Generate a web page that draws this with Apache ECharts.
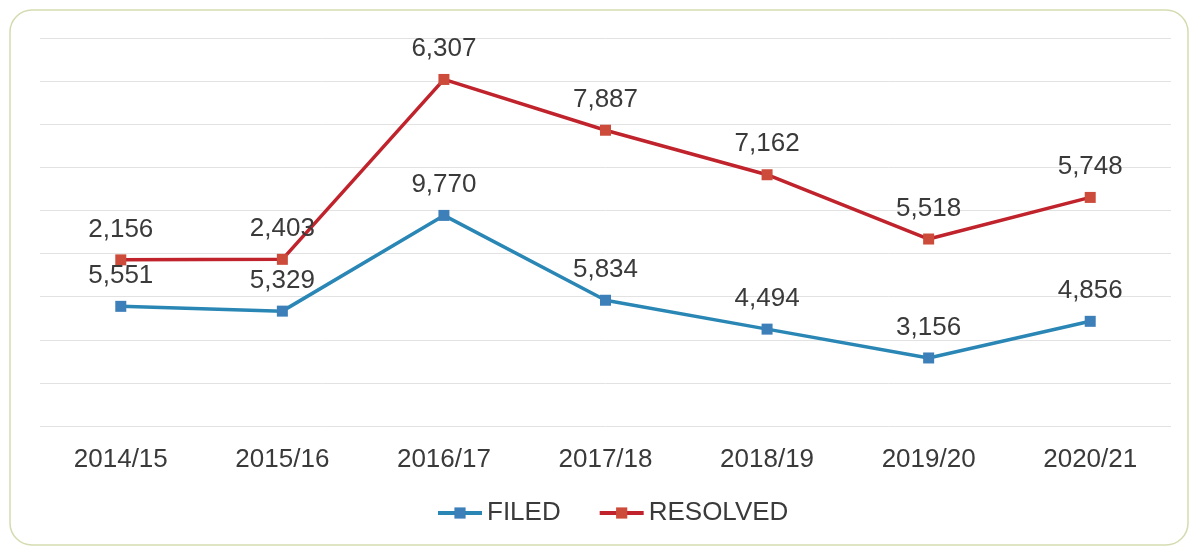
<!DOCTYPE html>
<html>
<head>
<meta charset="utf-8">
<script src="https://cdn.jsdelivr.net/npm/echarts@6/dist/echarts.min.js"></script>
<style>
html,body{margin:0;padding:0;background:#fff;}
#c{width:1196px;height:550px;}
</style>
</head>
<body>
<div id="c"></div>
<script>
const categories = ['2014/15','2015/16','2016/17','2017/18','2018/19','2019/20','2020/21'];
const filed = [5551, 5329, 9770, 5834, 4494, 3156, 4856];
const resolved = [2156, 2403, 6307, 7887, 7162, 5518, 5748];

const chart = echarts.init(document.getElementById('c'));
const font = 'Liberation Sans, Arial, sans-serif';
const fmt = p => Number(p.value).toLocaleString('en-US');
chart.setOption({
  backgroundColor: '#fff',
  animation: false,
  graphic: [{
    type: 'rect',
    shape: {x: 10, y: 10, width: 1178, height: 535, r: 22},
    style: {fill: 'none', stroke: '#d5dbb0', lineWidth: 1.5},
    silent: true, z: -1
  }],
  grid: {left: 40, right: 25, top: 38, bottom: 124},
  legend: {
    bottom: 19,
    left: 431,
    itemWidth: 44,
    itemHeight: 14,
    itemGap: 37,
    lineStyle: {width: 4},
    textStyle: {fontFamily: font, fontSize: 26, color: '#3a3a3a'},
    data: ['FILED', 'RESOLVED']
  },
  xAxis: {
    type: 'category',
    data: categories,
    boundaryGap: true,
    axisLine: {show: false},
    axisTick: {show: false},
    axisLabel: {fontFamily: font, fontSize: 26, color: '#3a3a3a', margin: 21}
  },
  yAxis: {
    type: 'value',
    min: 0, max: 18000, interval: 2000,
    axisLabel: {show: false},
    axisLine: {show: false},
    axisTick: {show: false},
    splitLine: {lineStyle: {color: '#e2e2e2', width: 1}}
  },
  series: [{
    name: 'FILED',
    type: 'line',
    stack: 'total',
    data: filed,
    symbol: 'rect',
    symbolSize: 11,
    lineStyle: {color: '#2a87b5', width: 3.5},
    itemStyle: {color: '#3d7fb9'},
    label: {show: true, position: 'top', distance: 12, formatter: fmt,
      fontFamily: font, fontSize: 26, color: '#3a3a3a'}
  }, {
    name: 'RESOLVED',
    type: 'line',
    stack: 'total',
    data: resolved,
    symbol: 'rect',
    symbolSize: 11,
    lineStyle: {color: '#c0232b', width: 3.5},
    itemStyle: {color: '#cc4b3a'},
    label: {show: true, position: 'top', distance: 12, formatter: fmt,
      fontFamily: font, fontSize: 26, color: '#3a3a3a'}
  }]
});
</script>
</body>
</html>
